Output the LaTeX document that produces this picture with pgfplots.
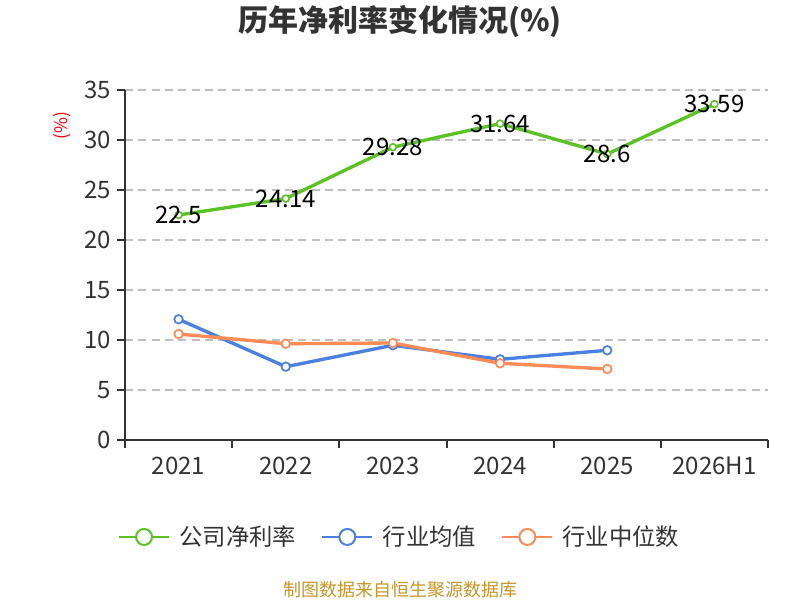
\documentclass[border=0pt]{standalone}
\usepackage{pgfplots}
\pgfplotsset{compat=1.18}
\usepackage{fontspec}
\setmainfont{Noto Sans CJK SC}
\definecolor{cgreen}{RGB}{91,194,35}
\definecolor{cblue}{RGB}{74,128,226}
\definecolor{corange}{RGB}{255,139,87}
\definecolor{darktext}{RGB}{51,51,51}
\definecolor{axisgray}{RGB}{51,51,51}
\definecolor{footer}{RGB}{200,150,40}
\begin{document}
\begin{tikzpicture}
\useasboundingbox (-93.75bp,-120bp) rectangle (506.25bp,330bp);
\begin{axis}[
  at={(0,0)}, anchor=south west,
  scale only axis, width=482.25bp, height=262.5bp,
  xmin=-0.5, xmax=5.5, ymin=0, ymax=35,
  axis lines=left,
  axis line style={-, draw=axisgray, line width=1.5bp},
  xtick={-0.5,0.5,1.5,2.5,3.5,4.5,5.5},
  xticklabels={2021,2022,2023,2024,2025,2026H1},
  x tick label as interval,
  ytick={0,5,...,35},
  /pgf/number format/assume math mode=true,
  tick align=outside, major tick length=6bp,
  tick style={draw=axisgray, line width=1.5bp},
  ymajorgrids,
  grid style={dash pattern=on 6bp off 4bp, draw=black!25, line width=1bp},
  tick label style={font=\fontsize{18bp}{20bp}\selectfont, text=darktext},
  xticklabel style={yshift=-3bp},
  yticklabel style={xshift=-1bp},
  clip=false,
  legend columns=3,
  legend style={draw=none, fill=none, at={(0.4277,-0.277)}, anchor=center,
    font=\fontsize{17.5bp}{19bp}\selectfont, text=darktext,
    /tikz/every odd column/.append style={column sep=5bp},
    /tikz/every even column/.append style={column sep=17bp}},
  legend image code/.code={
    \draw[line width=1.5bp] (0bp,0bp) -- (37.5bp,0bp);
    \draw[line width=1.5bp, fill=white] (18.75bp,0bp) circle (6bp);
  },
]
\addplot[cgreen, line width=2.5bp, mark=*, mark size=2.6bp,
  mark options={fill=white, line width=1.2bp},
  nodes near coords, point meta=explicit symbolic,
  every node near coord/.append style={anchor=center, text=black,
    font=\fontsize{18bp}{20bp}\selectfont}]
  coordinates {(0,22.5)[22.5] (1,24.14)[24.14] (2,29.28)[29.28] (3,31.64)[31.64] (4,28.6)[28.6] (5,33.59)[33.59]};
\addlegendentry{公司净利率}
\addplot[cblue, line width=2.5bp, mark=*, mark size=3.2bp,
  mark options={fill=white, line width=1.3bp}]
  coordinates {(0,12.07) (1,7.33) (2,9.47) (3,8.07) (4,8.97)};
\addlegendentry{行业均值}
\addplot[corange, line width=2.5bp, mark=*, mark size=3.2bp,
  mark options={fill=white, line width=1.3bp}]
  coordinates {(0,10.6) (1,9.63) (2,9.7) (3,7.67) (4,7.1)};
\addlegendentry{行业中位数}
\end{axis}
\node[font=\fontsize{22.5bp}{24bp}\selectfont\bfseries, text=darktext] at (206.25bp,313.5bp) {历年净利率变化情况(\%)};
\node[font=\fontsize{13bp}{15bp}\selectfont, text=red, rotate=90] at (-47bp,236bp) {(\%)};
\node[font=\fontsize{13.5bp}{15bp}\selectfont, text=footer] at (206.25bp,-112.5bp) {制图数据来自恒生聚源数据库};
\end{tikzpicture}
\end{document}
